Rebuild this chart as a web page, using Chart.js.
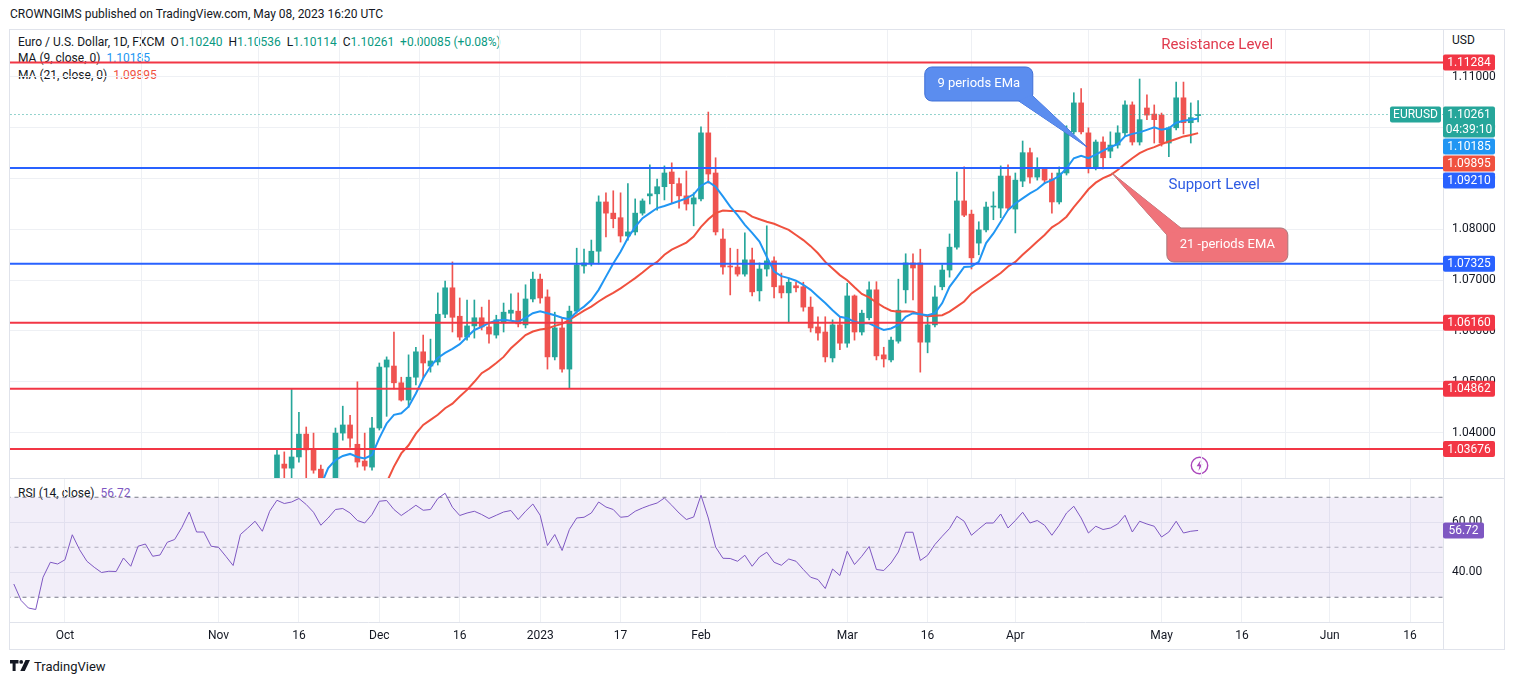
<!DOCTYPE html>
<html>
<head>
<meta charset="utf-8">
<script src="https://cdn.jsdelivr.net/npm/chart.js@4"></script>
<style>
  body { margin: 0; width: 1514px; height: 685px; overflow: hidden; background: #fff;
         font-family: Roboto, "Noto Sans", sans-serif; color: #131722; position: relative; }
  .t { position: absolute; white-space: nowrap; font-size: 12px; line-height: 16px; }
  .g { color: #089981; }
  .line { position: absolute; background: #e0e3eb; }
  canvas { position: absolute; }
</style>
</head>
<body>
<div class="t" style="left:10px;top:6px">CROWNGIMS published on TradingView.com, May 08, 2023 16:20 UTC</div>
<div class="line" style="left:9px;top:29px;width:1496px;height:1px"></div>
<div class="line" style="left:9px;top:29px;width:1px;height:621px"></div>
<div class="line" style="left:1504px;top:29px;width:1px;height:621px"></div>
<div class="line" style="left:9px;top:649px;width:1496px;height:1px"></div>
<div class="line" style="left:1443px;top:30px;width:1px;height:620px"></div>
<div class="line" style="left:10px;top:478px;width:1494px;height:1px"></div>
<div class="t" style="left:18px;top:34px">Euro / U.S. Dollar, 1D, FXCM&nbsp;&nbsp;O<span class="g">1.10240</span>&nbsp;&nbsp;H<span class="g">1.10536</span>&nbsp;&nbsp;L<span class="g">1.10114</span>&nbsp;&nbsp;C<span class="g">1.10261</span>&nbsp;&nbsp;<span class="g">+0.00085 (+0.08%)</span></div>
<div class="t" style="left:18px;top:50px">MA (9, close, 0)&nbsp;&nbsp;<span style="color:#2196f3">1.10185</span></div>
<div class="t" style="left:18px;top:67px">MA (21, close, 0)&nbsp;&nbsp;<span style="color:#f0513f">1.09895</span></div>
<div class="t" style="left:1452px;top:32px">USD</div>
<div class="t" style="left:18px;top:485px">RSI (14, close)&nbsp;&nbsp;<span style="color:#7e57c2">56.72</span></div>
<svg style="position:absolute;left:1190px;top:456px" width="19" height="19">
  <circle cx="9.5" cy="9.5" r="8.2" fill="#fff" stroke="#ab47bc" stroke-width="1.4"/>
  <path d="M10.6 4.2 6.6 10.3h2.8l-1 4.6 4.1-6.3H9.7z" fill="#ab47bc"/>
</svg>
<div class="t" style="left:10px;top:659px;font-size:13px">
  <svg width="21" height="12" style="vertical-align:-1px"><path d="M0 0h8.5v3.6H5.6V11H2.6V3.6H0z" fill="#131722"/><circle cx="11.2" cy="1.9" r="1.9" fill="#131722"/><path d="M15.5 0h4.5l-5.2 11h-4.5z" fill="#131722"/></svg>
  TradingView</div>

<canvas id="price" width="1495" height="448" style="left:10px;top:30px"></canvas>
<canvas id="rsi" width="1495" height="171" style="left:10px;top:479px"></canvas>

<script>
// daily bars, Sep 22 2022 (index 0) .. May 8 2023 (index 162)
const open = [
  0.9840,0.9838,0.9691,0.9607,0.9586,0.9742,0.9815,0.9802,0.9828,0.9985,
  0.9904,0.9796,0.9747,0.9703,0.9706,0.9703,0.9776,0.9752,0.9844,0.9860,
  0.9780,0.9784,0.9867,0.9883,0.9966,1.0077,0.9968,0.9965,0.9881,0.9876,
  0.9819,0.9751,0.9905,0.9963,1.0018,0.9958,1.0209,1.0338,1.0330,1.0352,
  1.0397,1.0366,1.0328,1.0295,1.0290,1.0399,1.0415,1.0377,1.0344,1.0332,
  1.0409,1.0529,1.0531,1.0498,1.0464,1.0509,1.0559,1.0531,1.0539,1.0633,
  1.0685,1.0629,1.0588,1.0610,1.0626,1.0608,1.0592,1.0616,1.0635,1.0639,
  1.0612,1.0663,1.0702,1.0667,1.0549,1.0606,1.0525,1.0639,1.0728,1.0734,
  1.0757,1.0854,1.0832,1.0823,1.0787,1.0795,1.0832,1.0866,1.0870,1.0884,
  1.0913,1.0890,1.0866,1.0850,1.0860,1.0990,1.0911,1.0781,1.0728,1.0726,
  1.0712,1.0740,1.0679,1.0722,1.0738,1.0689,1.0675,1.0689,1.0687,1.0647,
  1.0608,1.0598,1.0547,1.0612,1.0576,1.0669,1.0598,1.0626,1.0681,1.0553,
  1.0543,1.0580,1.0681,1.0734,1.0734,1.0578,1.0612,1.0687,1.0720,1.0765,
  1.0856,1.0830,1.0773,1.0799,1.0844,1.0842,1.0905,1.0840,1.0895,1.0951,
  1.0903,1.0919,1.0899,1.0854,1.0911,1.0992,1.1049,1.0990,1.0923,1.0972,
  1.0954,1.0966,1.0990,1.1045,1.0972,1.1039,1.1027,1.1025,1.0970,1.1000,
  1.1059,1.1010,1.10240
];
const high = [
  0.9905,0.9870,0.9710,0.9670,0.9788,0.9852,0.9855,0.9855,0.9999,0.9990,
  0.9925,0.9815,0.9760,0.9740,0.9758,0.9809,0.9807,0.9874,0.9875,0.9870,
  0.9848,0.9875,0.9885,0.9977,1.0093,1.0090,0.9990,1.0000,0.9955,0.9978,
  0.9840,0.9921,0.9980,1.0036,1.0033,1.0222,1.0369,1.0362,1.0486,1.0440,
  1.0411,1.0399,1.0336,1.0305,1.0409,1.0452,1.0434,1.0500,1.0399,1.0430,
  1.0537,1.0549,1.0598,1.0509,1.0553,1.0568,1.0592,1.0584,1.0675,1.0698,
  1.0736,1.0665,1.0661,1.0661,1.0647,1.0661,1.0631,1.0655,1.0673,1.0675,
  1.0691,1.0716,1.0712,1.0681,1.0637,1.0626,1.0649,1.0763,1.0761,1.0779,
  1.0866,1.0872,1.0876,1.0872,1.0890,1.0860,1.0860,1.0927,1.0899,1.0925,
  1.0931,1.0901,1.0915,1.0872,1.1002,1.1031,1.0941,1.0801,1.0763,1.0761,
  1.0793,1.0763,1.0734,1.0807,1.0746,1.0714,1.0704,1.0696,1.0696,1.0667,
  1.0628,1.0628,1.0622,1.0628,1.0694,1.0671,1.0641,1.0697,1.0697,1.0568,
  1.0588,1.0702,1.0752,1.0752,1.0761,1.0628,1.0689,1.0730,1.0791,1.0913,
  1.0923,1.0838,1.0815,1.0854,1.0874,1.0925,1.0927,1.0911,1.0974,1.0960,
  1.0941,1.0921,1.0911,1.0923,1.1004,1.1069,1.1077,1.1000,1.0976,1.0982,
  1.0992,1.1004,1.1053,1.1051,1.1096,1.1065,1.1045,1.1029,1.1002,1.1090,
  1.1090,1.1049,1.10536
];
const low = [
  0.9810,0.9680,0.9580,0.9536,0.9562,0.9705,0.9750,0.9750,0.9810,0.9876,
  0.9790,0.9735,0.9690,0.9668,0.9632,0.9695,0.9705,0.9740,0.9800,0.9750,
  0.9705,0.9775,0.9800,0.9870,0.9960,0.9960,0.9940,0.9875,0.9855,0.9810,
  0.9730,0.9740,0.9890,0.9900,0.9935,0.9935,1.0197,1.0306,1.0306,1.0342,
  1.0306,1.0320,1.0287,1.0270,1.0285,1.0385,1.0371,1.0332,1.0326,1.0326,
  1.0405,1.0432,1.0486,1.0462,1.0450,1.0494,1.0507,1.0519,1.0533,1.0626,
  1.0598,1.0582,1.0582,1.0586,1.0602,1.0576,1.0586,1.0598,1.0622,1.0608,
  1.0606,1.0657,1.0655,1.0525,1.0543,1.0519,1.0488,1.0635,1.0714,1.0728,
  1.0732,1.0785,1.0803,1.0775,1.0779,1.0789,1.0828,1.0850,1.0838,1.0858,
  1.0852,1.0842,1.0838,1.0807,1.0856,1.0891,1.0789,1.0712,1.0671,1.0708,
  1.0708,1.0669,1.0659,1.0708,1.0665,1.0665,1.0618,1.0677,1.0639,1.0598,
  1.0582,1.0539,1.0539,1.0563,1.0568,1.0582,1.0592,1.0622,1.0543,1.0529,
  1.0539,1.0576,1.0655,1.0661,1.0519,1.0557,1.0608,1.0681,1.0706,1.0761,
  1.0825,1.0722,1.0750,1.0795,1.0819,1.0823,1.0838,1.0793,1.0884,1.0891,
  1.0897,1.0890,1.0832,1.0850,1.0907,1.0988,1.0988,1.0911,1.0917,1.0919,
  1.0941,1.0960,1.0984,1.0966,1.0966,1.1016,1.0970,1.0964,1.0943,1.0996,
  1.0988,1.0970,1.10114
];
const close = [
  0.9838,0.9691,0.9607,0.9586,0.9742,0.9815,0.9802,0.9828,0.9985,0.9904,
  0.9796,0.9747,0.9703,0.9706,0.9703,0.9776,0.9752,0.9844,0.9860,0.9780,
  0.9784,0.9867,0.9883,0.9966,1.0077,0.9968,0.9965,0.9881,0.9876,0.9819,
  0.9751,0.9905,0.9963,1.0018,0.9958,1.0209,1.0356,1.0330,1.0352,1.0397,
  1.0366,1.0326,1.0297,1.0290,1.0399,1.0415,1.0389,1.0342,1.0334,1.0409,
  1.0529,1.0543,1.0498,1.0464,1.0509,1.0559,1.0537,1.0541,1.0633,1.0685,
  1.0627,1.0588,1.0610,1.0626,1.0608,1.0594,1.0622,1.0637,1.0641,1.0614,
  1.0663,1.0702,1.0665,1.0549,1.0606,1.0525,1.0639,1.0730,1.0734,1.0757,
  1.0854,1.0832,1.0821,1.0787,1.0795,1.0832,1.0856,1.0870,1.0884,1.0911,
  1.0890,1.0866,1.0850,1.0862,1.0990,1.0909,1.0795,1.0726,1.0726,1.0712,
  1.0740,1.0677,1.0722,1.0738,1.0687,1.0675,1.0696,1.0685,1.0647,1.0606,
  1.0596,1.0549,1.0612,1.0576,1.0669,1.0598,1.0635,1.0681,1.0551,1.0545,
  1.0582,1.0641,1.0734,1.0724,1.0578,1.0612,1.0667,1.0720,1.0765,1.0856,
  1.0828,1.0744,1.0799,1.0844,1.0846,1.0905,1.0842,1.0897,1.0951,1.0903,
  1.0919,1.0897,1.0854,1.0911,1.0992,1.1049,1.0992,1.0923,1.0972,1.0941,
  1.0966,1.0990,1.1045,1.0972,1.1016,1.1025,1.1016,1.0970,1.1000,1.1059,
  1.1010,1.1020,1.10261
];
// MA (9) and MA (21)
const ema9 = [
  null,null,null,null,null,null,null,null,0.9760,0.9789,
  0.9790,0.9782,0.9766,0.9754,0.9744,0.9750,0.9750,0.9769,0.9787,0.9786,
  0.9785,0.9802,0.9818,0.9848,0.9894,0.9909,0.9920,0.9912,0.9905,0.9888,
  0.9861,0.9870,0.9889,0.9915,0.9924,0.9981,1.0056,1.0111,1.0159,1.0230,
  1.0262,1.0285,1.0296,1.0330,1.0346,1.0354,1.0358,1.0352,1.0349,1.0356,
  1.0389,1.0418,1.0435,1.0438,1.0451,1.0477,1.0507,1.0530,1.0547,1.0557,
  1.0565,1.0574,1.0588,1.0602,1.0608,1.0616,1.0620,1.0622,1.0620,1.0618,
  1.0626,1.0635,1.0639,1.0635,1.0631,1.0626,1.0623,1.0638,1.0648,1.0661,
  1.0681,1.0707,1.0733,1.0756,1.0783,1.0805,1.0822,1.0832,1.0842,1.0846,
  1.0851,1.0856,1.0861,1.0869,1.0886,1.0894,1.0884,1.0865,1.0845,1.0828,
  1.0809,1.0793,1.0776,1.0746,1.0717,1.0708,1.0704,1.0699,1.0691,1.0681,
  1.0668,1.0655,1.0641,1.0628,1.0625,1.0618,1.0615,1.0615,1.0608,1.0602,
  1.0605,1.0612,1.0628,1.0635,1.0633,1.0631,1.0635,1.0655,1.0687,1.0706,
  1.0726,1.0727,1.0736,1.0773,1.0792,1.0815,1.0838,1.0851,1.0861,1.0871,
  1.0879,1.0891,1.0897,1.0905,1.0920,1.0940,1.0945,1.0940,1.0947,1.0955,
  1.0962,1.0968,1.0983,1.0988,1.0991,1.0996,1.1001,1.0996,1.0999,1.1010,
  1.1014,1.1016,1.10185
];
const ema21 = [
  null,null,null,null,null,null,null,null,null,null,
  null,null,null,null,null,null,null,null,null,null,
  0.9770,0.9779,0.9788,0.9804,0.9829,0.9841,0.9853,0.9856,0.9859,0.9855,
  0.9846,0.9851,0.9861,0.9875,0.9882,0.9912,0.9952,0.9987,1.0021,1.0055,
  1.0083,1.0105,1.0122,1.0137,1.0161,1.0184,1.0202,1.0215,1.0226,1.0258,
  1.0280,1.0302,1.0333,1.0359,1.0375,1.0398,1.0415,1.0425,1.0435,1.0448,
  1.0457,1.0471,1.0484,1.0500,1.0517,1.0526,1.0537,1.0549,1.0566,1.0579,
  1.0592,1.0599,1.0603,1.0605,1.0610,1.0614,1.0622,1.0631,1.0640,1.0648,
  1.0658,1.0667,1.0675,1.0684,1.0694,1.0704,1.0715,1.0727,1.0736,1.0750,
  1.0760,1.0767,1.0774,1.0786,1.0805,1.0820,1.0832,1.0837,1.0836,1.0836,
  1.0835,1.0825,1.0820,1.0815,1.0811,1.0805,1.0799,1.0789,1.0779,1.0767,
  1.0753,1.0736,1.0723,1.0710,1.0700,1.0686,1.0673,1.0666,1.0656,1.0647,
  1.0640,1.0638,1.0639,1.0638,1.0633,1.0629,1.0630,1.0631,1.0638,1.0648,
  1.0658,1.0674,1.0684,1.0694,1.0704,1.0714,1.0727,1.0736,1.0750,1.0763,
  1.0776,1.0789,1.0804,1.0813,1.0825,1.0844,1.0861,1.0879,1.0892,1.0901,
  1.0907,1.0917,1.0929,1.0940,1.0950,1.0957,1.0962,1.0968,1.0973,1.0978,
  1.0983,1.0986,1.09895
];
const rsi = [
  35.3,28.7,25.7,25.1,38,44,43.3,45,55,49,
  44.4,42,39.9,40.4,40.3,45.7,42.4,50.4,51.3,46.4,
  46.9,52,53.1,58,64.1,56.1,56.1,50.4,50,46.4,
  42.7,55.1,57.7,60.4,56.4,64.4,68.8,67.5,68.1,69.5,
  67.1,64,58.8,61.7,65.1,65.5,63.7,60.7,59.7,63.1,
  68.4,68.7,65.1,62.7,64.7,66.8,64.8,65.1,69.5,71.6,
  66,62.7,63.7,64.4,63.1,61.5,62.8,64.1,64.7,61.1,
  64.4,67.3,62.8,50.7,55.1,48.7,57.1,61.7,62,63.7,
  68.1,66.1,65.1,62,62.3,64.4,65.7,66.8,67.7,69.7,
  66.8,63.7,61.1,62.1,70.8,61.7,50.1,45.6,45.5,44.4,
  46.8,42.4,46.1,48,44,42.8,45.3,44.4,41.1,38,
  37.1,33.5,41.3,38.7,48.4,43.1,46.4,50.3,41.1,40.7,
  43.7,48.1,56,56,44.7,46.8,51.1,54.4,57.5,62.4,
  60.4,54.8,57.3,59.7,59.7,63.3,57.7,60.7,64,59.7,
  60.7,58.8,54.8,58.8,63.7,66.4,61.7,55.7,58.4,57.1,
  57.7,59.3,62.8,56.1,60.4,59.3,58.4,54.1,56.1,60.4,
  55.7,56.4,56.72
];

// horizontal levels drawn on the chart
const levels      = [1.11284, 1.09210, 1.07325, 1.06160, 1.04862, 1.03676];
const levelColors = ['#f23645', '#2962ff', '#2962ff', '#f23645', '#f23645', '#f23645'];
const lastPrice = 1.10261;

const tickIdx  = [7, 28, 39, 50, 61, 72, 83, 94, 114, 125, 137, 157, 168, 180, 191];
const tickText = ['Oct','Nov','16','Dec','16','2023','17','Feb','Mar','16','Apr','May','16','Jun','16'];
const priceTicks = [1.04, 1.05, 1.06, 1.07, 1.08, 1.09, 1.10, 1.11];
const rsiTicks = [40, 60];
const rsiBands = [70, 50, 30];

const UP = '#26a69a', DOWN = '#ef5350', GRID = '#eef0f4';
const XMIN = -0.52, XMAX = 195.5;

Chart.defaults.font.family = "Roboto, 'Noto Sans', sans-serif";
Chart.defaults.font.size = 12;
Chart.defaults.color = '#131722';

const idx = close.map((c, i) => i);
const candleColors = close.map((c, i) => c >= open[i] ? UP : DOWN);

function tag(ctx, x, top, w, h, color, lines) {
  ctx.fillStyle = color;
  ctx.beginPath();
  ctx.roundRect(x, top, w, h, 2);
  ctx.fill();
  ctx.fillStyle = '#fff';
  ctx.textAlign = 'center';
  ctx.textBaseline = 'middle';
  lines.forEach((s, k) => ctx.fillText(s, x + w / 2, top + 8.5 + k * 15));
}

// callouts and texts of the author, anchored to bar index / price
const notes = [
  { text: '9 periods EMa', at: [132.0, 1.10862], w: 108, h: 34, fill: '#5b8def', stroke: '#3f6fd6',
    tip: [146.8, 1.09622], base: 'br' },
  { text: '21 -periods EMA', at: [166.0, 1.07693], w: 121, h: 34, fill: '#f0737a', stroke: '#a8787b',
    tip: [150.2, 1.09110], base: 'tl' }
];
const labels = [
  { text: 'Resistance Level', at: [164.6, 1.11630], color: '#e03a4d' },
  { text: 'Support Level', at: [164.2, 1.08874], color: '#2f5ce3' }
];

const overlay = {
  id: 'overlay',
  afterDraw(chart) {
    const { ctx, chartArea: a, scales: { x, y } } = chart;
    ctx.save();
    ctx.font = "15px Roboto, 'Noto Sans', sans-serif";
    ctx.textAlign = 'center';
    ctx.textBaseline = 'middle';
    labels.forEach(l => {
      ctx.fillStyle = l.color;
      ctx.fillText(l.text, x.getPixelForValue(l.at[0]), y.getPixelForValue(l.at[1]));
    });

    notes.forEach(n => {
      const cx = x.getPixelForValue(n.at[0]), cy = y.getPixelForValue(n.at[1]);
      const l = cx - n.w / 2, r = cx + n.w / 2, t = cy - n.h / 2, b = cy + n.h / 2;
      const tx = x.getPixelForValue(n.tip[0]), ty = y.getPixelForValue(n.tip[1]);
      const p = n.base === 'br' ? [[r - 14, b], [r - 1, b - 6]] : [[l + 1, t + 8], [l + 14, t]];
      ctx.fillStyle = n.fill;
      ctx.strokeStyle = n.stroke;
      ctx.lineWidth = 1;
      ctx.beginPath();
      ctx.moveTo(p[0][0], p[0][1]); ctx.lineTo(tx, ty); ctx.lineTo(p[1][0], p[1][1]); ctx.closePath();
      ctx.fill(); ctx.stroke();
      ctx.beginPath();
      ctx.roundRect(l, t, n.w, n.h, 7);
      ctx.fill(); ctx.stroke();
      ctx.beginPath();
      ctx.moveTo(p[0][0], p[0][1]); ctx.lineTo(tx, ty); ctx.lineTo(p[1][0], p[1][1]); ctx.closePath();
      ctx.fill();
      ctx.fillStyle = '#fff';
      ctx.font = "13px Roboto, 'Noto Sans', sans-serif";
      ctx.fillText(n.text, cx, cy);
    });

    // symbol label at last price
    ctx.font = "12px Roboto, 'Noto Sans', sans-serif";
    const ly = y.getPixelForValue(lastPrice);
    tag(ctx, a.right - 53, ly - 8, 51, 16, UP, ['EURUSD']);

    // right axis price tags, stacked so they don't overlap
    const tags = levels.map((v, k) => ({ v, color: levelColors[k], lines: [v.toFixed(5)] }));
    tags.push({ v: lastPrice, color: UP, lines: [lastPrice.toFixed(5), '04:39:10'] });
    tags.push({ v: ema9[ema9.length - 1], color: '#2196f3', lines: [ema9[ema9.length - 1].toFixed(5)] });
    tags.push({ v: ema21[ema21.length - 1], color: '#f0513f', lines: [ema21[ema21.length - 1].toFixed(5)] });
    tags.sort((p, q) => q.v - p.v);
    let bottom = -1e9;
    tags.forEach(tg => {
      const h = tg.lines.length === 2 ? 31 : 16;
      let top = y.getPixelForValue(tg.v) - 8;
      if (top < bottom + 1) top = bottom + 1;
      bottom = top + h;
      tag(ctx, a.right, top, 52, h, tg.color, tg.lines);
    });
    ctx.restore();
  }
};

new Chart(document.getElementById('price'), {
  type: 'bar',
  data: {
    datasets: [
      ...levels.map((v, k) => ({
        type: 'line', data: [{ x: -1, y: v }, { x: 200, y: v }],
        borderColor: levelColors[k], borderWidth: 2, pointRadius: 0, order: 0
      })),
      { type: 'line', data: [{ x: -1, y: lastPrice }, { x: 200, y: lastPrice }],
        borderColor: UP, borderWidth: 1, borderDash: [1, 3], pointRadius: 0, order: 1 },
      { type: 'line', label: 'MA 9', data: idx.map(i => ({ x: i, y: ema9[i] })),
        borderColor: '#2196f3', borderWidth: 2, pointRadius: 0, order: 2 },
      { type: 'line', label: 'MA 21', data: idx.map(i => ({ x: i, y: ema21[i] })),
        borderColor: '#f0513f', borderWidth: 2, pointRadius: 0, order: 2 },
      { label: 'body', data: idx.map(i => ({ x: i, y: [open[i], close[i]] })),
        backgroundColor: candleColors, barThickness: 5, minBarLength: 1, grouped: false, order: 3 },
      { label: 'wick', data: idx.map(i => ({ x: i, y: [low[i], high[i]] })),
        backgroundColor: candleColors, barThickness: 1, grouped: false, order: 4 }
    ]
  },
  options: {
    responsive: false,
    animation: false,
    events: [],
    layout: { padding: 0 },
    plugins: { legend: { display: false }, tooltip: { enabled: false } },
    scales: {
      x: {
        type: 'linear', min: XMIN, max: XMAX, offset: false,
        grid: { color: GRID, drawTicks: false },
        border: { display: false },
        ticks: { display: false },
        afterBuildTicks: s => { s.ticks = tickIdx.map(v => ({ value: v })); },
        afterFit: s => { s.height = 0; s.paddingLeft = 0; s.paddingRight = 0; }
      },
      y: {
        position: 'right', min: 1.03106, max: 1.11925,
        grid: { color: GRID, drawTicks: false },
        border: { display: false },
        ticks: { padding: 9, callback: v => v.toFixed(5) },
        afterBuildTicks: s => { s.ticks = priceTicks.map(v => ({ value: v })); },
        afterFit: s => { s.width = 62; s.paddingTop = 0; s.paddingBottom = 0; }
      }
    }
  },
  plugins: [overlay]
});

const rsiTag = {
  id: 'rsiTag',
  afterDraw(chart) {
    const { ctx, chartArea: a, scales: { y } } = chart;
    ctx.save();
    ctx.font = "12px Roboto, 'Noto Sans', sans-serif";
    const v = rsi[rsi.length - 1];
    tag(ctx, a.right, y.getPixelForValue(v) - 8, 41, 16, '#7e57c2', [v.toFixed(2)]);
    ctx.restore();
  }
};

new Chart(document.getElementById('rsi'), {
  type: 'line',
  data: {
    datasets: [
      ...rsiBands.map((b, k) => ({
        data: [{ x: -1, y: b }, { x: 200, y: b }],
        borderColor: k === 1 ? 'rgba(120,123,134,0.55)' : '#787b86',
        borderWidth: 1, borderDash: [4, 4], pointRadius: 0,
        fill: k === 0 ? { value: rsiBands[2] } : false,
        backgroundColor: 'rgba(126,87,194,0.1)', order: 1
      })),
      { label: 'RSI', data: idx.map(i => ({ x: i, y: rsi[i] })),
        borderColor: '#7e57c2', borderWidth: 1, pointRadius: 0, order: 0 }
    ]
  },
  options: {
    responsive: false,
    animation: false,
    events: [],
    layout: { padding: 0 },
    plugins: { legend: { display: false }, tooltip: { enabled: false } },
    scales: {
      x: {
        type: 'linear', min: XMIN, max: XMAX, offset: false,
        grid: { color: GRID, drawTicks: false },
        border: { display: true, color: '#e0e3eb' },
        ticks: { padding: 7, autoSkip: false, maxRotation: 0,
                 callback: v => tickText[tickIdx.indexOf(v)] },
        afterBuildTicks: s => { s.ticks = tickIdx.map(v => ({ value: v })); },
        afterFit: s => { s.height = 28; s.paddingLeft = 0; s.paddingRight = 0; }
      },
      y: {
        position: 'right', min: 20.1, max: 77.3,
        grid: { color: GRID, drawTicks: false },
        border: { display: false },
        ticks: { padding: 9, callback: v => v.toFixed(2) },
        afterBuildTicks: s => { s.ticks = rsiTicks.map(v => ({ value: v })); },
        afterFit: s => { s.width = 62; s.paddingTop = 0; s.paddingBottom = 0; }
      }
    }
  },
  plugins: [rsiTag]
});
</script>
</body>
</html>
